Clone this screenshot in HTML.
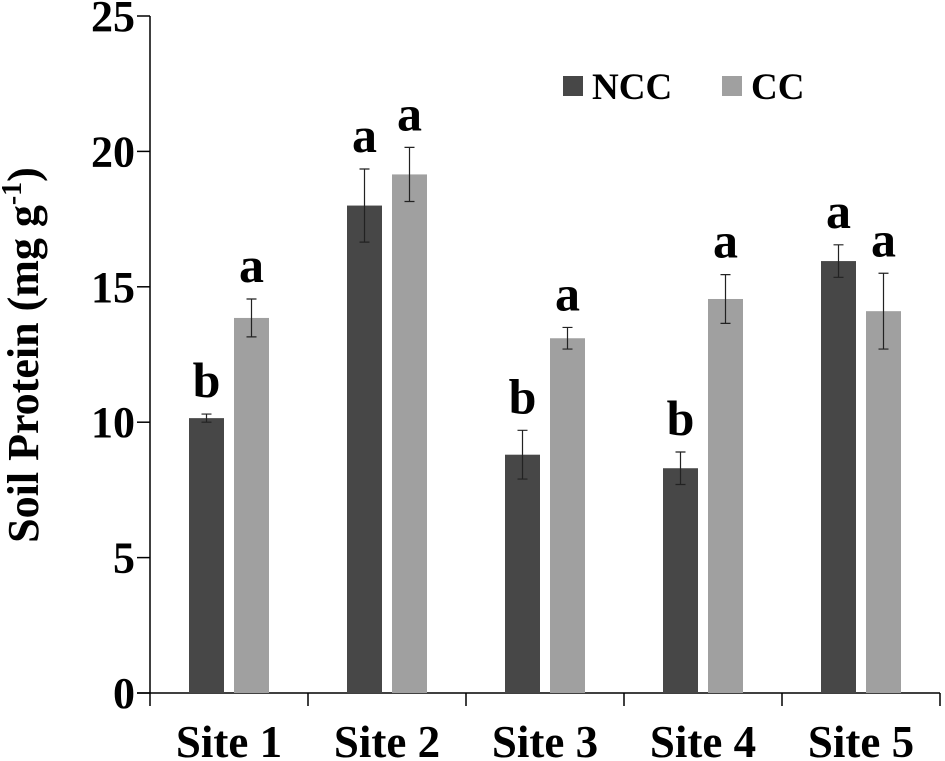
<!DOCTYPE html>
<html><head><meta charset="utf-8"><style>
html,body{margin:0;padding:0;background:#fff;}
svg{display:block;font-family:"Liberation Serif",serif;font-weight:bold;}
</style></head><body>
<svg id="chart" width="945" height="761" viewBox="0 0 945 761">
<g id="axes"></g><g id="bars"></g>
<text transform="translate(38,355) rotate(-90)" text-anchor="middle" font-size="44">Soil Protein (mg g<tspan font-size="28" dy="-17">-1</tspan><tspan dy="17">)</tspan></text>
<g>
<rect x="563" y="76" width="20" height="20" fill="#474747"/>
<text x="592" y="99" font-size="37">NCC</text>
<rect x="722" y="76" width="20" height="20" fill="#a0a0a0"/>
<text x="751" y="99" font-size="37">CC</text>
</g>
</svg>
<script>
const categories=["Site 1","Site 2","Site 3","Site 4","Site 5"];
const nccValues=[10.15,18.0,8.8,8.3,15.95];
const ccValues=[13.85,19.15,13.1,14.55,14.1];
const nccErrors=[0.15,1.35,0.9,0.6,0.6];
const ccErrors=[0.7,1.0,0.4,0.9,1.4];
const nccLetters=["b","a","b","b","a"];
const ccLetters=["a","a","a","a","a"];
const yTicks=[0,5,10,15,20,25];
const NS="http://www.w3.org/2000/svg";
const x0=150,x1=940,yTop=16,yBot=693,yMax=25;
const groupW=(x1-x0)/categories.length;
function y(v){return yBot-(v/yMax)*(yBot-yTop);}
function gx(i){return x0+i*groupW;}
function mk(tag,attrs,parent,text){const e=document.createElementNS(NS,tag);for(const k in attrs)e.setAttribute(k,attrs[k]);if(text!==undefined)e.textContent=text;parent.appendChild(e);return e;}
const axes=document.getElementById('axes'),bars=document.getElementById('bars');
let e=mk('line',{x1:x0,y1:yTop,x2:x0,y2:yBot,stroke:'#000','stroke-width':1.5},axes);


e=mk('line',{x1:x0-13,y1:yBot,x2:x1,y2:yBot,stroke:'#000','stroke-width':1.5},axes);


yTicks.forEach(t=>{
 const l=mk('line',{x1:x0-13,y1:y(t),x2:x0,y2:y(t),stroke:'#000','stroke-width':1.5},axes);
 
 
 const tx=mk('text',{x:x0-15,y:y(t)+15,'text-anchor':'end','font-size':44},axes,String(t));
 
 
});
for(let i=0;i<=categories.length;i++){
 const l=mk('line',{x1:gx(i),y1:yBot,x2:gx(i),y2:yBot+13,stroke:'#000','stroke-width':1.5},axes);
 
 
}
categories.forEach((c,i)=>{
 const cx=gx(i)+groupW/2;
 const tx=mk('text',{x:cx,y:757,'text-anchor':'middle','font-size':45},axes,c);
 
 
 [[nccValues,nccErrors,nccLetters,'#474747',-40,'ncc'],[ccValues,ccErrors,ccLetters,'#a0a0a0',5,'cc']].forEach(s=>{
  const v=s[0][i],er=s[1][i],bx=cx+s[4],w=35;
  const r=mk('rect',{x:bx,y:y(v),width:w,height:yBot-y(v),fill:s[3]},bars);
  
  
  const m=bx+w/2;
  const eb=mk('path',{d:`M${m},${y(v+er)}V${y(v-er)}M${m-5},${y(v+er)}H${m+5}M${m-5},${y(v-er)}H${m+5}`,stroke:'#222','stroke-width':1.2,fill:'none'},bars);
  
  
  const lt=mk('text',{x:m,y:y(v+er)-17,'text-anchor':'middle','font-size':50},bars,s[2][i]);
  
  
 });
});
</script>
</body></html>
